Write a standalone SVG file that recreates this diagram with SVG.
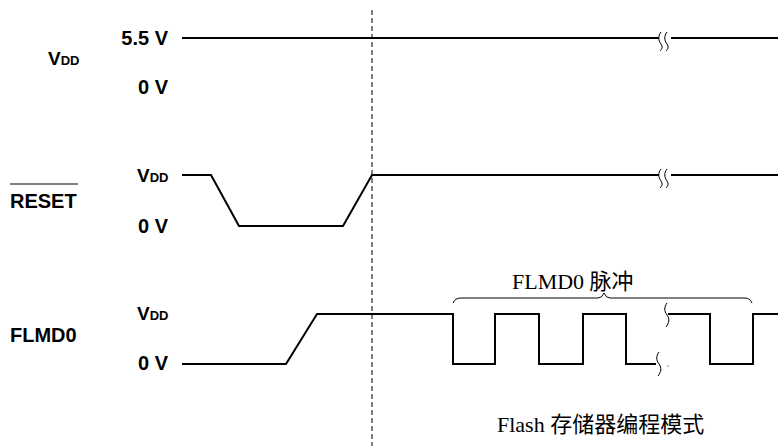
<svg xmlns="http://www.w3.org/2000/svg" width="778" height="446" viewBox="0 0 778 446">
<style>
.lbl{font-family:"Liberation Sans",Arial,sans-serif;font-weight:bold;font-size:20px;fill:#000}
.v{font-size:19px}
.sub{font-size:13px}
.cap{font-family:"Liberation Serif","Noto Sans CJK SC",serif;font-size:22px;fill:#000}
.w{fill:none;stroke:#000;stroke-width:2;stroke-linejoin:miter}
.brk{fill:none;stroke:#000;stroke-width:1}
.dash{fill:none;stroke:#000;stroke-width:1;stroke-dasharray:5,3}
</style>
<rect width="778" height="446" fill="#fff"/>
<g id="vdd-signal">
<text class="lbl v" x="48" y="65">V<tspan class="sub">DD</tspan></text>
<text class="lbl" x="168" y="45" text-anchor="end">5.5 V</text>
<text class="lbl" x="168" y="94" text-anchor="end">0 V</text>
</g>
<g id="reset-signal">
<text class="lbl" x="10" y="208">RESET</text>
<line x1="10" y1="184" x2="78" y2="184" stroke="#000" stroke-width="1.2"/>
<text class="lbl v" x="137" y="182">V<tspan class="sub">DD</tspan></text>
<text class="lbl" x="168" y="233" text-anchor="end">0 V</text>
</g>
<g id="flmd0-signal">
<text class="lbl" x="10" y="342">FLMD0</text>
<text class="lbl v" x="137" y="320">V<tspan class="sub">DD</tspan></text>
<text class="lbl" x="168" y="370" text-anchor="end">0 V</text>
</g>
<g id="connectors">
<line class="dash" x1="372" y1="10" x2="372" y2="446"/>
<path class="w" d="M182 38H659M671 38H778"/>
<path class="brk" d="M661 32c-3 4 -3 8 0 12c2 3 1 5 -1 7M667 32c-3 4 -3 8 0 12c2 3 1 5 -1 7"/>
<path class="w" d="M182 175H211L239 226H343L372 175H659M671 175H778"/>
<path class="brk" d="M661 169c-3 4 -3 8 0 12c2 3 1 5 -1 7M667 169c-3 4 -3 8 0 12c2 3 1 5 -1 7"/>
<path class="w" d="M182 364H286L317 314H453V364H495V314H539V364H583V314H626V364H656"/>
<path class="w" d="M668 314H710V364H753V314H778"/>
<path class="brk" d="M667 303c-3 4 -3 8 0 12c3 4 2 8 -1 12"/>
<path class="brk" d="M659 352c-3 4 -3 8 0 12c3 4 2 8 -1 12"/>
<circle cx="668" cy="366" r="0.6" fill="#000"/>
<path class="brk" d="M453 303Q455 298 461 298H598Q602 298 604 293Q606 298 610 298H745Q750 298 752 303"/>
</g>
<g id="labels">
<text class="cap" x="512" y="289">FLMD0 脉冲</text>
<text class="cap" x="497" y="432">Flash 存储器编程模式</text>
</g>
</svg>
